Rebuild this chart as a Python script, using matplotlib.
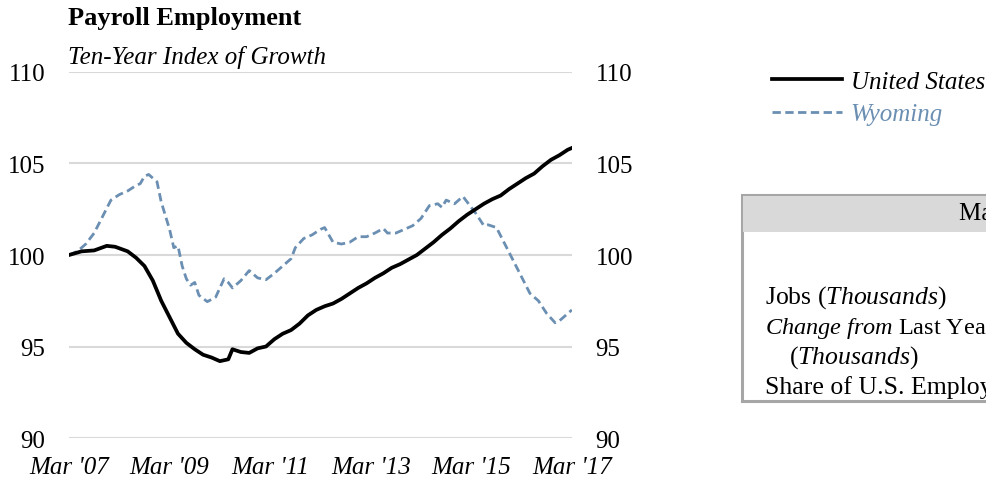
import matplotlib
matplotlib.use("Agg")
import matplotlib.pyplot as plt
from matplotlib.patches import Rectangle

plt.rcParams["font.family"] = ["Liberation Serif", "DejaVu Serif"]
plt.rcParams["mathtext.fontset"] = "custom"
plt.rcParams["mathtext.rm"] = "Liberation Serif"
plt.rcParams["mathtext.it"] = "Liberation Serif:italic"

# months since Mar 2007
us_months = [0, 3, 6, 9, 11, 14, 16, 18, 20, 22, 24, 26, 28, 30, 32, 34, 36, 38,
             39, 41, 43, 45, 47, 49, 51, 53, 55, 57, 59, 61, 63, 65, 67, 69, 71,
             73, 75, 77, 79, 81, 83, 85, 87, 89, 91, 93, 95, 97, 99, 101, 103,
             105, 107, 109, 111, 113, 115, 117, 119, 120]
us_values = [100.0, 100.2, 100.25, 100.5, 100.45, 100.2, 99.85, 99.4, 98.6, 97.5,
             96.6, 95.7, 95.2, 94.85, 94.55, 94.4, 94.2, 94.3, 94.85, 94.7, 94.65,
             94.9, 95.0, 95.4, 95.7, 95.9, 96.25, 96.7, 97.0, 97.2, 97.35, 97.6,
             97.9, 98.2, 98.45, 98.75, 99.0, 99.3, 99.5, 99.75, 100.0, 100.35,
             100.7, 101.1, 101.45, 101.85, 102.2, 102.5, 102.8, 103.05, 103.25,
             103.6, 103.9, 104.2, 104.45, 104.85, 105.2, 105.45, 105.75, 105.85]

wy_months = [0, 2, 4, 6, 8, 10, 12, 14, 16, 17, 18, 19, 21, 22, 24, 25, 26, 27,
             28, 29, 30, 31, 33, 35, 37, 38, 39, 41, 43, 45, 47, 49, 51, 53, 54,
             56, 58, 60, 61, 63, 65, 67, 69, 71, 73, 75, 76, 78, 80, 82, 84, 86,
             88, 89, 90, 92, 94, 95, 97, 99, 100, 102, 104, 106, 108, 110, 112,
             114, 116, 117, 119, 120]
wy_values = [100.0, 100.2, 100.6, 101.2, 102.1, 103.0, 103.3, 103.5, 103.8, 103.9,
             104.3, 104.4, 104.0, 102.9, 101.4, 100.4, 100.5, 99.4, 98.7, 98.35,
             98.5, 97.8, 97.45, 97.7, 98.7, 98.5, 98.2, 98.6, 99.15, 98.75, 98.65,
             99.0, 99.4, 99.8, 100.4, 100.9, 101.1, 101.4, 101.5, 100.7, 100.6,
             100.7, 101.0, 101.0, 101.2, 101.45, 101.2, 101.2, 101.4, 101.6, 102.0,
             102.7, 102.8, 102.6, 103.0, 102.8, 103.2, 102.9, 102.3, 101.6, 101.65,
             101.5, 100.6, 99.7, 98.8, 97.9, 97.5, 96.8, 96.3, 96.4, 96.8, 97.0]

tick_months = [0, 24, 48, 72, 96, 120]
tick_labels = ["Mar '07", "Mar '09", "Mar '11", "Mar '13", "Mar '15", "Mar '17"]
y_ticks = [90, 95, 100, 105, 110]

us_color = "black"
wy_color = "#6b8fb2"
grid_color = "#d9d9d9"

fig = plt.figure(figsize=(9.86, 4.85), dpi=100)
ax = fig.add_axes([0.070, 0.0948, 0.510, 0.7547])

for y in y_ticks:
    ax.axhline(y, color=grid_color, lw=1.5, zorder=0)

ax.plot(us_months, us_values, color=us_color, lw=2.7, label="United States",
        solid_joinstyle="round", zorder=3)
ax.plot(wy_months, wy_values, color=wy_color, lw=2.0, ls=(0, (3, 1.6)),
        label="Wyoming", zorder=2)

ax.set_xlim(0, 120)
ax.set_ylim(90, 110)
ax.set_yticks(y_ticks)
ax.set_xticks(tick_months)
ax.set_xticklabels(tick_labels, fontstyle="italic")
ax.tick_params(axis="both", length=0, labelsize=18)
ax.tick_params(axis="y", pad=17, labelright=True)
ax.tick_params(axis="x", pad=13)
for s in ax.spines.values():
    s.set_visible(False)

fig.text(0.069, 0.962, "Payroll Employment", fontsize=19, fontweight="bold",
         va="center", ha="left")
fig.text(0.069, 0.882, "Ten-Year Index of Growth", fontsize=18,
         fontstyle="italic", va="center", ha="left")

leg = fig.legend(loc="upper left", bbox_to_anchor=(0.783, 0.853), frameon=False,
                 fontsize=18, handlelength=2.8, handletextpad=0.35,
                 labelspacing=0.4, borderpad=0, borderaxespad=0)
for t in leg.get_texts():
    t.set_fontstyle("italic")
leg.get_texts()[1].set_color(wy_color)

# summary table box (cut by the right edge)
box = Rectangle((0.753, 0.171), 0.4, 0.424, transform=fig.transFigure,
                facecolor="white", edgecolor="#a6a6a6", lw=2.2)
fig.add_artist(box)
head = Rectangle((0.754, 0.520), 0.4, 0.074, transform=fig.transFigure,
                 facecolor="#d9d9d9", edgecolor="none")
fig.add_artist(head)
fig.text(0.973, 0.558, "March 2017", fontsize=18, va="center", ha="left")

fig.text(0.776, 0.387, r"Jobs ($\mathit{Thousands}$)", fontsize=18.5, va="center")
fig.text(0.776, 0.322, r"$\mathit{Change\ from}$ Last Year", fontsize=17.5, va="center")
fig.text(0.800, 0.262, r"$\mathit{(Thousands)}$", fontsize=18.5, va="center")
fig.text(0.776, 0.200, "Share of U.S. Employment", fontsize=18.5, va="center")

fig.savefig("out.png", dpi=100)
